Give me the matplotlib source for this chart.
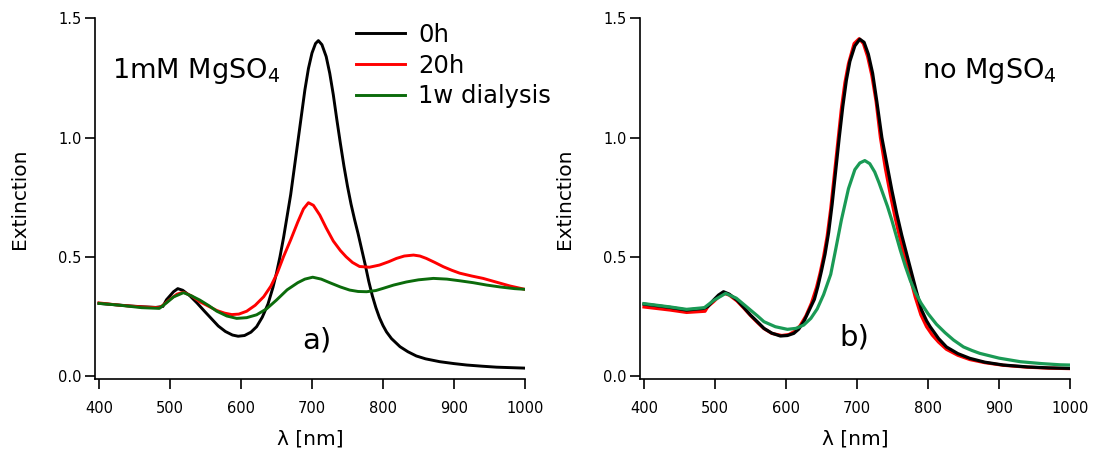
import matplotlib
matplotlib.use("Agg")
import matplotlib.pyplot as plt

plt.rcParams['font.family'] = ['DejaVu Sans']
plt.rcParams['mathtext.fontset'] = 'dejavusans'

# ---------------- panel a) 1mM MgSO4 ----------------
a_0h_wl = [400, 420, 440, 460, 480, 490, 495, 500, 505, 511, 518, 528, 538, 548, 558, 568,
           578, 588, 596, 605, 614, 622, 630, 638, 645, 650, 655, 660, 665, 670, 675, 680,
           685, 690, 695, 700, 705, 709, 714, 720, 725, 730, 735, 740, 745, 750, 755, 760,
           765, 770, 775, 780, 785, 790, 795, 800, 805, 812, 824, 835, 847, 860, 880, 900,
           918, 940, 960, 980, 1000]
a_0h_ext = [0.303, 0.298, 0.293, 0.289, 0.286, 0.290, 0.318, 0.335, 0.352, 0.365, 0.358, 0.335,
            0.305, 0.272, 0.240, 0.208, 0.185, 0.170, 0.165, 0.168, 0.182, 0.205, 0.245, 0.300,
            0.370, 0.430, 0.500, 0.580, 0.670, 0.760, 0.870, 0.980, 1.090, 1.200, 1.290, 1.355,
            1.395, 1.407, 1.390, 1.340, 1.270, 1.180, 1.075, 0.975, 0.880, 0.795, 0.720, 0.655,
            0.595, 0.530, 0.465, 0.395, 0.335, 0.285, 0.243, 0.210, 0.183, 0.155, 0.121, 0.100,
            0.082, 0.070, 0.058, 0.050, 0.044, 0.039, 0.035, 0.033, 0.031]

a_20h_wl = [400, 430, 460, 485, 490, 500, 510, 519, 530, 542, 555, 566, 577, 587, 597, 608,
            620, 632, 642, 651, 660, 670, 680, 688, 695, 702, 711, 720, 730, 740, 748, 757,
            767, 781, 795, 808, 819, 830, 843, 852, 861, 873, 885, 897, 908, 925, 941, 960,
            979, 1000]
a_20h_ext = [0.305, 0.295, 0.288, 0.285, 0.295, 0.320, 0.342, 0.350, 0.335, 0.310, 0.290, 0.273,
             0.262, 0.256, 0.258, 0.270, 0.295, 0.331, 0.375, 0.430, 0.500, 0.570, 0.645, 0.700,
             0.726, 0.715, 0.674, 0.620, 0.565, 0.525, 0.499, 0.475, 0.458, 0.455, 0.464, 0.478,
             0.492, 0.502, 0.506, 0.502, 0.492, 0.475, 0.457, 0.442, 0.430, 0.418, 0.408, 0.392,
             0.376, 0.362]

a_1w_wl = [400, 430, 460, 485, 495, 505, 519, 530, 542, 555, 566, 580, 594, 608, 622, 636,
           650, 665, 680, 690, 701, 713, 725, 740, 753, 765, 777, 790, 800, 815, 833, 850,
           871, 890, 908, 927, 946, 965, 985, 1000]
a_1w_ext = [0.303, 0.295, 0.285, 0.282, 0.305, 0.330, 0.348, 0.335, 0.317, 0.293, 0.270, 0.250,
            0.240, 0.243, 0.255, 0.280, 0.317, 0.360, 0.390, 0.405, 0.413, 0.405, 0.390, 0.372,
            0.359, 0.353, 0.352, 0.357, 0.366, 0.380, 0.393, 0.402, 0.408, 0.405, 0.398, 0.390,
            0.380, 0.372, 0.365, 0.362]

# ---------------- panel b) no MgSO4 ----------------
b_0h_wl = [400, 437, 460, 484, 490, 498, 505, 512, 520, 531, 540, 550, 560, 569, 580, 592,
           602, 611, 618, 625, 632, 640, 645, 650, 655, 660, 665, 670, 675, 680, 685, 690,
           697, 704, 710, 716, 722, 728, 735, 742, 749, 756, 763, 770, 777, 784, 791, 798,
           803, 815, 826, 842, 859, 880, 906, 940, 970, 1000]
b_0h_ext = [0.300, 0.286, 0.275, 0.282, 0.290, 0.317, 0.338, 0.352, 0.342, 0.317, 0.288, 0.254,
            0.225, 0.198, 0.178, 0.166, 0.168, 0.177, 0.195, 0.226, 0.270, 0.320, 0.375, 0.440,
            0.510, 0.600, 0.720, 0.860, 1.000, 1.130, 1.240, 1.320, 1.385, 1.413, 1.400, 1.350,
            1.270, 1.150, 1.000, 0.890, 0.780, 0.680, 0.590, 0.510, 0.430, 0.350, 0.275, 0.230,
            0.205, 0.155, 0.120, 0.092, 0.072, 0.056, 0.044, 0.036, 0.032, 0.030]

b_20h_wl = [400, 437, 460, 486, 490, 498, 505, 513, 520, 531, 540, 550, 560, 569, 580, 594,
            604, 612, 620, 628, 636, 643, 648, 653, 658, 663, 668, 673, 678, 683, 688, 696,
            703, 709, 715, 721, 727, 733, 740, 747, 754, 761, 768, 775, 782, 790, 798, 806,
            815, 826, 842, 859, 880, 906, 940, 970, 1000]
b_20h_ext = [0.288, 0.275, 0.265, 0.270, 0.290, 0.310, 0.330, 0.345, 0.338, 0.313, 0.285, 0.252,
             0.222, 0.197, 0.177, 0.168, 0.172, 0.185, 0.210, 0.250, 0.305, 0.370, 0.430, 0.500,
             0.585, 0.700, 0.840, 0.980, 1.120, 1.230, 1.310, 1.395, 1.415, 1.395, 1.340, 1.260,
             1.150, 1.000, 0.870, 0.760, 0.660, 0.570, 0.490, 0.410, 0.330, 0.255, 0.205, 0.170,
             0.140, 0.110, 0.085, 0.067, 0.054, 0.043, 0.035, 0.031, 0.029]

b_1w_wl = [400, 437, 460, 485, 498, 515, 530, 550, 560, 569, 585, 602, 614, 625, 635, 644,
           653, 663, 670, 678, 688, 697, 704, 711, 718, 725, 731, 737, 743, 749, 755, 761,
           768, 775, 782, 790, 800, 812, 824, 836, 850, 862, 873, 900, 930, 960, 986, 1000]
b_1w_ext = [0.302, 0.288, 0.278, 0.285, 0.315, 0.345, 0.325, 0.275, 0.250, 0.226, 0.205, 0.194,
            0.198, 0.212, 0.240, 0.280, 0.340, 0.425, 0.530, 0.653, 0.785, 0.865, 0.893, 0.903,
            0.890, 0.855, 0.810, 0.760, 0.710, 0.653, 0.590, 0.527, 0.460, 0.400, 0.350, 0.305,
            0.260, 0.215, 0.180, 0.149, 0.120, 0.105, 0.093, 0.073, 0.058, 0.050, 0.045, 0.044]

labels = ["0h", "20h", "1w dialysis"]
xticks = [400, 500, 600, 700, 800, 900, 1000]
yticks = [0.0, 0.5, 1.0, 1.5]
ytick_labels = ["0.0", "0.5", "1.0", "1.5"]

W, H = 1093, 451
fig = plt.figure(figsize=(W / 100, H / 100), dpi=100)

def make_axes(x0px):
    ax = fig.add_axes([x0px / W, (H - 379) / H, 430 / W, (379 - 18.5) / H])
    ax.set_xlim(394.4, 1000)
    ax.set_ylim(-0.0147, 1.5)
    for s in ("top", "right"):
        ax.spines[s].set_visible(False)
    for s in ("left", "bottom"):
        ax.spines[s].set_linewidth(1.2)
    ax.set_xticks(xticks)
    ax.set_xticklabels([str(t) for t in xticks])
    ax.set_yticks(yticks)
    ax.set_yticklabels(ytick_labels)
    ax.tick_params(axis="x", direction="out", length=7.5, width=1.2, labelsize=10.5, pad=8)
    ax.tick_params(axis="y", direction="out", length=7.5, width=1.2, labelsize=10.5, pad=2)
    ax.set_xlabel("λ [nm]", fontsize=14.5, labelpad=10)
    ax.set_ylabel("Extinction", fontsize=14.5, labelpad=21)
    return ax

ax1 = make_axes(95)
l0, = ax1.plot(a_0h_wl, a_0h_ext, color="black", lw=2.1, label=labels[0])
l1, = ax1.plot(a_20h_wl, a_20h_ext, color="#ff0000", lw=2.1, label=labels[1])
l2, = ax1.plot(a_1w_wl, a_1w_ext, color="#0b6b0b", lw=2.1, label=labels[2])
ax1.legend(handles=[l0, l1, l2], loc="upper left", bbox_to_anchor=(0.585, 1.015),
           frameon=False, fontsize=17.5, handlelength=2.0, handletextpad=0.55,
           labelspacing=0.28, borderaxespad=0.0)
ax1.text(0.04, 0.835, "1mM MgSO$_4$", transform=ax1.transAxes, fontsize=19.5,
         ha="left", va="baseline")
ax1.text(0.483, 0.085, "a)", transform=ax1.transAxes, fontsize=21, ha="left", va="baseline")

ax2 = make_axes(640)
ax2.plot(b_20h_wl, b_20h_ext, color="#ff0000", lw=2.3)
ax2.plot(b_0h_wl, b_0h_ext, color="black", lw=2.3)
ax2.plot(b_1w_wl, b_1w_ext, color="#1a9a55", lw=2.3)
ax2.text(0.655, 0.835, "no MgSO$_4$", transform=ax2.transAxes, fontsize=19.5,
         ha="left", va="baseline")
ax2.text(0.463, 0.092, "b)", transform=ax2.transAxes, fontsize=21, ha="left", va="baseline")

fig.savefig("out.png", dpi=100)
